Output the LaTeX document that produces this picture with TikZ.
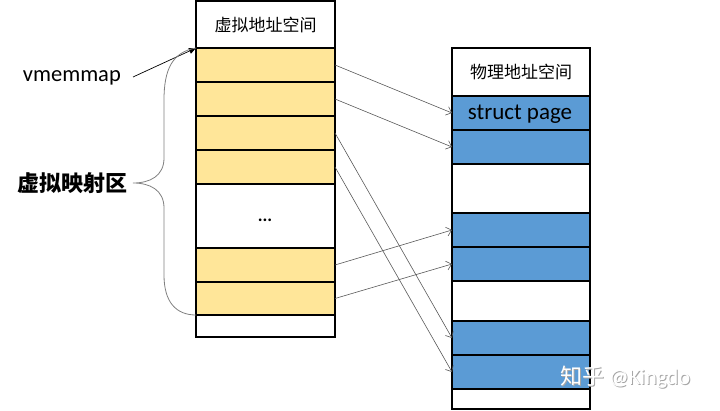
\documentclass[tikz,border=0pt]{standalone}
\usepackage{fontspec}
\setmainfont{Carlito}
\newfontfamily\cjk{Noto Sans CJK SC}
\usetikzlibrary{arrows.meta}
\definecolor{cellyellow}{HTML}{FFE699}
\definecolor{cellblue}{HTML}{5B9BD5}
\definecolor{linkgray}{HTML}{595959}
\tikzset{
  cell/.style={draw=black, line width=1.4pt, anchor=north west, inner sep=0pt, outer sep=0pt, font=\fontsize{17}{20}\selectfont},
  lcell/.style={cell, minimum width=139pt},
  rcell/.style={cell, minimum width=138pt},
  ycell/.style={lcell, fill=cellyellow},
  bcell/.style={rcell, fill=cellblue},
  link/.style={draw=linkgray, line width=0.6pt, -{Straight Barb[length=5pt,width=9pt]}},
  brace/.style={draw=gray, line width=0.8pt}
}
\begin{document}
\begin{tikzpicture}[x=1pt,y=-1pt]
\useasboundingbox (0,0) rectangle (720,410);
% left column
\node[lcell, minimum height=47pt] (L0) at (196,1) {\cjk 虚拟地址空间};
\node[ycell, minimum height=34pt] (L1) at (196,48) {};
\node[ycell, minimum height=34pt] (L2) at (196,82) {};
\node[ycell, minimum height=34pt] (L3) at (196,116) {};
\node[ycell, minimum height=34pt] (L4) at (196,150) {};
\node[lcell, minimum height=64pt] (L5) at (196,184) {};
\node[font=\fontsize{18}{20}\selectfont\bfseries, inner sep=0pt] (dots) at (265,220) {...};
\node[ycell, minimum height=34pt] (L6) at (196,248) {};
\node[ycell, minimum height=33pt] (L7) at (196,282) {};
\node[lcell, minimum height=22pt] (L8) at (196,315) {};
% right column
\node[rcell, minimum height=48pt] (R0) at (452,48) {\cjk 物理地址空间};
\node[bcell, minimum height=34pt] (R1) at (452,96) {};
\node[font=\fontsize{23}{26}\selectfont, inner sep=0pt] (sp) at (520,114) {struct page};
\node[bcell, minimum height=34pt] (R2) at (452,130) {};
\node[rcell, minimum height=49pt] (R3) at (452,164) {};
\node[bcell, minimum height=34pt] (R4) at (452,213) {};
\node[bcell, minimum height=34pt] (R5) at (452,247) {};
\node[rcell, minimum height=40pt] (R6) at (452,281) {};
\node[bcell, minimum height=34pt] (R7) at (452,321) {};
\node[bcell, minimum height=34pt] (R8) at (452,355) {};
\node[rcell, minimum height=20pt] (R9) at (452,389) {};
% mapping arrows
\draw[link] (L1.east) -- (R1.west);
\draw[link] (L2.east) -- (R2.west);
\draw[link] (L3.east) -- (R7.west);
\draw[link] (L4.east) -- (R8.west);
\draw[link] (L6.east) -- (R4.west);
\draw[link] (L7.east) -- (R5.west);
% labels
\node[font=\fontsize{22.5}{26}\selectfont, anchor=east, inner sep=0pt] (vm) at (121,78) {vmemmap};
\coordinate (vmend) at (133,77);
\draw[line width=0.7pt, -{Triangle[length=7pt,width=6pt]}] (vmend) -- (L1.north west);
\node[font=\fontsize{22}{26}\selectfont\cjk\bfseries, anchor=east, inner sep=0pt] (area) at (128,183) {虚拟映射区};
\coordinate (tip) at (133,183);
\draw[brace] (L1.north west) .. controls (172,52) and (164,70) .. (164,100) -- (164,158)
  .. controls (164,176) and (150,183) .. (tip)
  .. controls (150,183) and (164,190) .. (164,208) -- (164,275)
  .. controls (164,302) and (176,315) .. (L7.south west);
% watermark
\node[font=\fontsize{22}{26}\selectfont, text=gray!70, anchor=west, inner sep=0pt] (wmshadow) at (561,377.8) {\cjk 知乎 \rmfamily @Kingdo};
\node[font=\fontsize{22}{26}\selectfont, text=white, anchor=west, inner sep=0pt] (wm) at (560,377) {\cjk 知乎 \rmfamily @Kingdo};
\end{tikzpicture}
\end{document}
